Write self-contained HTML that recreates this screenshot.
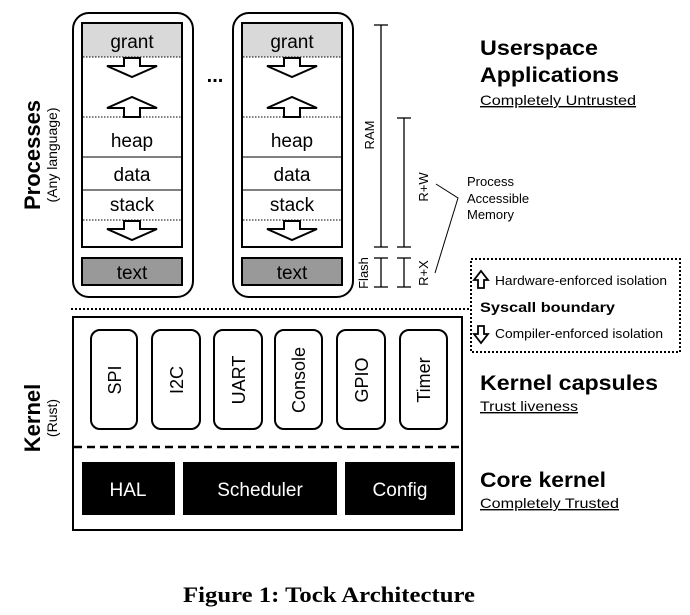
<!DOCTYPE html>
<html><head><meta charset="utf-8"><style>
html,body{margin:0;padding:0;background:#fff;}
svg{display:block;}
text{font-family:"Liberation Sans",sans-serif;fill:#000;}
</style></head><body>
<svg width="690" height="615" viewBox="0 0 690 615" xmlns="http://www.w3.org/2000/svg">
<defs>
<g id="proc">
  <rect x="0" y="0" width="120" height="284" rx="16" fill="#fff" stroke="#000" stroke-width="2"/>
  <rect x="9" y="10" width="100" height="224" fill="#fff" stroke="#000" stroke-width="2"/>
  <rect x="10" y="11" width="98" height="33" fill="#d9d9d9"/>
  <line x1="10" y1="44" x2="108" y2="44" stroke="#000" stroke-width="1" stroke-dasharray="1.5,1.5"/>
  <line x1="10" y1="104" x2="108" y2="104" stroke="#000" stroke-width="1" stroke-dasharray="1.5,1.5"/>
  <line x1="10" y1="144" x2="108" y2="144" stroke="#000" stroke-width="1"/>
  <line x1="10" y1="177" x2="108" y2="177" stroke="#000" stroke-width="1"/>
  <line x1="10" y1="207" x2="108" y2="207" stroke="#000" stroke-width="1" stroke-dasharray="1.5,1.5"/>
  <path d="M51,45 L67,45 L67,53 L84,53 L59,64 L34,53 L51,53 Z" fill="#fff" stroke="#000" stroke-width="2"/>
  <path d="M51,104 L67,104 L67,95 L84,95 L59,84 L34,95 L51,95 Z" fill="#fff" stroke="#000" stroke-width="2"/>
  <path d="M51,208 L67,208 L67,216 L84,216 L59,227 L34,216 L51,216 Z" fill="#fff" stroke="#000" stroke-width="2"/>
  <rect x="9" y="245" width="100" height="27" fill="#999" stroke="#000" stroke-width="2"/>
  <text x="59" y="35" font-size="19" text-anchor="middle">grant</text>
  <text x="59" y="134" font-size="19" text-anchor="middle">heap</text>
  <text x="59" y="168" font-size="19" text-anchor="middle">data</text>
  <text x="59" y="198" font-size="19" text-anchor="middle">stack</text>
  <text x="59" y="266" font-size="19" text-anchor="middle">text</text>
</g>
</defs>
<use href="#proc" x="73" y="13"/>
<use href="#proc" x="233" y="13"/>
<text x="215" y="82" font-size="20" text-anchor="middle" font-weight="bold">...</text>

<text transform="translate(40,155) rotate(-90)" font-size="22" font-weight="bold" text-anchor="middle">Processes</text>
<text transform="translate(57,155) rotate(-90)" font-size="14" text-anchor="middle">(Any language)</text>

<g stroke="#000" stroke-width="1.3">
  <line x1="381" y1="25" x2="381" y2="247"/><line x1="374" y1="25" x2="388" y2="25"/><line x1="374" y1="247" x2="388" y2="247"/>
  <line x1="381" y1="258" x2="381" y2="287"/><line x1="374" y1="258" x2="388" y2="258"/><line x1="374" y1="287" x2="388" y2="287"/>
  <line x1="404" y1="118" x2="404" y2="247"/><line x1="397" y1="118" x2="411" y2="118"/><line x1="397" y1="247" x2="411" y2="247"/>
  <line x1="404" y1="258" x2="404" y2="287"/><line x1="397" y1="258" x2="411" y2="258"/><line x1="397" y1="287" x2="411" y2="287"/>
  <polyline points="436,184 458,198 435,273" fill="none" stroke-width="1"/>
</g>
<text transform="translate(374,135) rotate(-90)" font-size="13" text-anchor="middle">RAM</text>
<text transform="translate(428,187) rotate(-90)" font-size="13" text-anchor="middle">R+W</text>
<text transform="translate(368,273) rotate(-90)" font-size="13" text-anchor="middle">Flash</text>
<text transform="translate(428,273) rotate(-90)" font-size="13" text-anchor="middle">R+X</text>
<text x="467" y="186" font-size="13">Process</text>
<text x="467" y="203" font-size="13">Accessible</text>
<text x="467" y="219" font-size="13">Memory</text>

<text x="480" y="55" font-size="21" font-weight="bold" textLength="118" lengthAdjust="spacingAndGlyphs">Userspace</text>
<text x="480" y="82" font-size="21" font-weight="bold" textLength="139" lengthAdjust="spacingAndGlyphs">Applications</text>
<text x="480" y="105" font-size="14" text-decoration="underline" textLength="156" lengthAdjust="spacingAndGlyphs">Completely Untrusted</text>

<rect x="471" y="259" width="209" height="93" fill="none" stroke="#000" stroke-width="2" stroke-dasharray="2,2"/>
<line x1="71" y1="309" x2="471" y2="309" stroke="#000" stroke-width="2" stroke-dasharray="2,2"/>
<path d="M478,288 L478,280 L474,280 L481,271 L488,280 L484,280 L484,288 Z" fill="#fff" stroke="#000" stroke-width="1.8"/>
<text x="495" y="285" font-size="13" textLength="172" lengthAdjust="spacingAndGlyphs">Hardware-enforced isolation</text>
<text x="480" y="312" font-size="14" font-weight="bold" textLength="135" lengthAdjust="spacingAndGlyphs">Syscall boundary</text>
<path d="M478,326 L478,334 L474,334 L481,343 L488,334 L484,334 L484,326 Z" fill="#fff" stroke="#000" stroke-width="1.8"/>
<text x="495" y="338" font-size="13" textLength="168" lengthAdjust="spacingAndGlyphs">Compiler-enforced isolation</text>

<rect x="73" y="317" width="389" height="213" fill="#fff" stroke="#000" stroke-width="2"/>
<g fill="#fff" stroke="#000" stroke-width="2">
  <rect x="91" y="330" width="46" height="99" rx="9"/>
  <rect x="152" y="330" width="48" height="99" rx="9"/>
  <rect x="214" y="330" width="48" height="99" rx="9"/>
  <rect x="275" y="330" width="47" height="99" rx="9"/>
  <rect x="337" y="330" width="48" height="99" rx="9"/>
  <rect x="400" y="330" width="47" height="99" rx="9"/>
</g>
<g font-size="18">
<text transform="translate(121,380) rotate(-90)" text-anchor="middle">SPI</text>
<text transform="translate(183,380) rotate(-90)" text-anchor="middle">I2C</text>
<text transform="translate(245,380) rotate(-90)" text-anchor="middle">UART</text>
<text transform="translate(305,380) rotate(-90)" text-anchor="middle">Console</text>
<text transform="translate(368,380) rotate(-90)" text-anchor="middle">GPIO</text>
<text transform="translate(430,380) rotate(-90)" text-anchor="middle">Timer</text>
</g>
<line x1="74" y1="447" x2="461" y2="447" stroke="#000" stroke-width="2.5" stroke-dasharray="8,5"/>
<rect x="82" y="462" width="93" height="53" fill="#000"/>
<rect x="183" y="462" width="154" height="53" fill="#000"/>
<rect x="345" y="462" width="110" height="53" fill="#000"/>
<text x="128" y="496" font-size="19" text-anchor="middle" style="fill:#fff">HAL</text>
<text x="260" y="496" font-size="19" text-anchor="middle" style="fill:#fff">Scheduler</text>
<text x="400" y="496" font-size="19" text-anchor="middle" style="fill:#fff">Config</text>

<text transform="translate(40,418) rotate(-90)" font-size="22" font-weight="bold" text-anchor="middle">Kernel</text>
<text transform="translate(57,418) rotate(-90)" font-size="14" text-anchor="middle">(Rust)</text>

<text x="480" y="390" font-size="21" font-weight="bold" textLength="178" lengthAdjust="spacingAndGlyphs">Kernel capsules</text>
<text x="480" y="411" font-size="14" text-decoration="underline" textLength="98" lengthAdjust="spacingAndGlyphs">Trust liveness</text>
<text x="480" y="487" font-size="21" font-weight="bold" textLength="126" lengthAdjust="spacingAndGlyphs">Core kernel</text>
<text x="480" y="508" font-size="14" text-decoration="underline" textLength="139" lengthAdjust="spacingAndGlyphs">Completely Trusted</text>

<text x="183" y="602" font-size="22" font-weight="bold" textLength="292" lengthAdjust="spacingAndGlyphs" style="font-family:'Liberation Serif',serif">Figure 1: Tock Architecture</text>
</svg>
</body></html>
